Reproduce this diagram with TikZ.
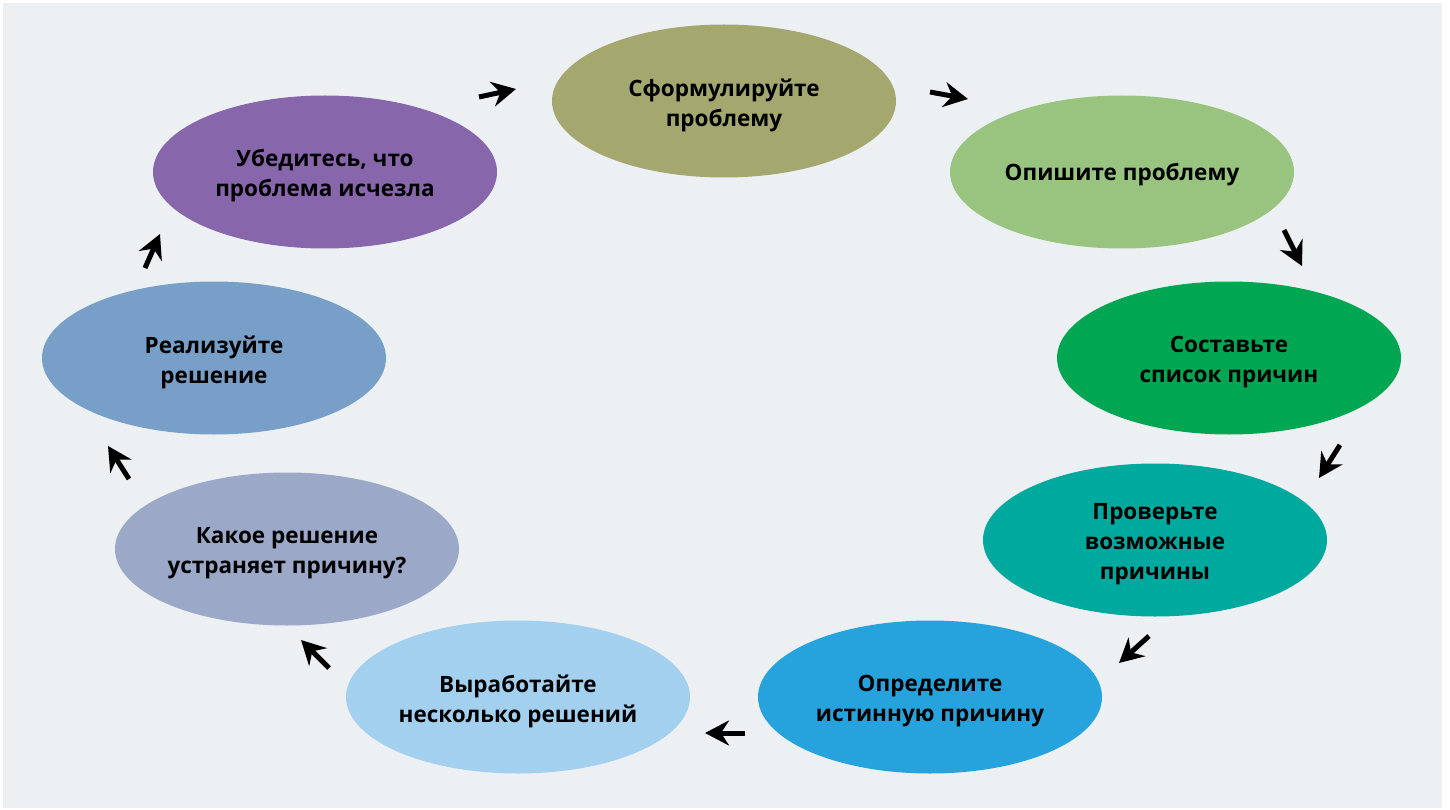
\documentclass[tikz,border=0pt]{standalone}
\usepackage{fontspec}
\setmainfont{Open Sans}
\usetikzlibrary{shapes.geometric,arrows.meta}
\definecolor{bg}{HTML}{ECF0F3}
\definecolor{c1}{HTML}{A4A76E}
\definecolor{c2}{HTML}{98C47F}
\definecolor{c3}{HTML}{00A651}
\definecolor{c4}{HTML}{00A99D}
\definecolor{c5}{HTML}{26A3DC}
\definecolor{c6}{HTML}{A3D0EF}
\definecolor{c7}{HTML}{9BA8C8}
\definecolor{c8}{HTML}{789FC8}
\definecolor{c9}{HTML}{8766AC}
\tikzset{
  stage/.style={ellipse, minimum width=344pt, minimum height=153pt, inner sep=0pt},
  lbl/.style={align=center, font=\fontsize{22.5}{30}\selectfont\bfseries, text=black, inner sep=0pt},
  flow/.style={line width=5pt, -{Stealth[length=24pt,width=25pt,inset=8pt]}, black}
}
\begin{document}
\begin{tikzpicture}[x=1pt,y=-1pt]
\useasboundingbox (0,0) rectangle (1450,810);
\fill[bg] (3,3) rectangle (1442,808);
\node[stage, fill=c1] (s1) at (724,101) {};
\node[stage, fill=c2] (s2) at (1122,172) {};
\node[stage, fill=c3] (s3) at (1229,358) {};
\node[stage, fill=c4] (s4) at (1155,540) {};
\node[stage, fill=c5] (s5) at (930,697) {};
\node[stage, fill=c6] (s6) at (518,697) {};
\node[stage, fill=c7] (s7) at (287,549) {};
\node[stage, fill=c8] (s8) at (214,358) {};
\node[stage, fill=c9] (s9) at (325,172) {};
\node[lbl] (t1) at ([yshift=-4pt]s1.center) {Сформулируйте\\проблему};
\node[lbl] (t2) at ([yshift=-3pt]s2.center) {Опишите проблему};
\node[lbl] (t3) at ([yshift=-4pt]s3.center) {Составьте\\список причин};
\node[lbl] (t4) at ([yshift=-4pt]s4.center) {Проверьте\\возможные\\причины};
\node[lbl] (t5) at ([yshift=-4pt]s5.center) {Определите\\истинную причину};
\node[lbl] (t6) at ([yshift=-4pt]s6.center) {Выработайте\\несколько решений};
\node[lbl] (t7) at ([yshift=-4pt]s7.center) {Какое решение\\устраняет причину?};
\node[lbl] (t8) at ([yshift=-4pt]s8.center) {Реализуйте\\решение};
\node[lbl] (t9) at ([yshift=-4pt]s9.center) {Убедитесь, что\\проблема исчезла};
\coordinate (a1s) at (479,97);   \coordinate (a1e) at (516,89);
\coordinate (a2s) at (930,92);   \coordinate (a2e) at (968,99);
\coordinate (a3s) at (1284,230); \coordinate (a3e) at (1302,266);
\coordinate (a4s) at (1340,445); \coordinate (a4e) at (1319,478);
\coordinate (a5s) at (1149,636); \coordinate (a5e) at (1119,663);
\coordinate (a6s) at (745,733);  \coordinate (a6e) at (705,733);
\coordinate (a7s) at (329,668);  \coordinate (a7e) at (301,640);
\coordinate (a8s) at (129,479);  \coordinate (a8e) at (108,446);
\coordinate (a9s) at (145,268);  \coordinate (a9e) at (160,234);
\foreach \i in {1,...,9}{\draw[flow] (a\i s) -- (a\i e);}
\end{tikzpicture}
\end{document}
